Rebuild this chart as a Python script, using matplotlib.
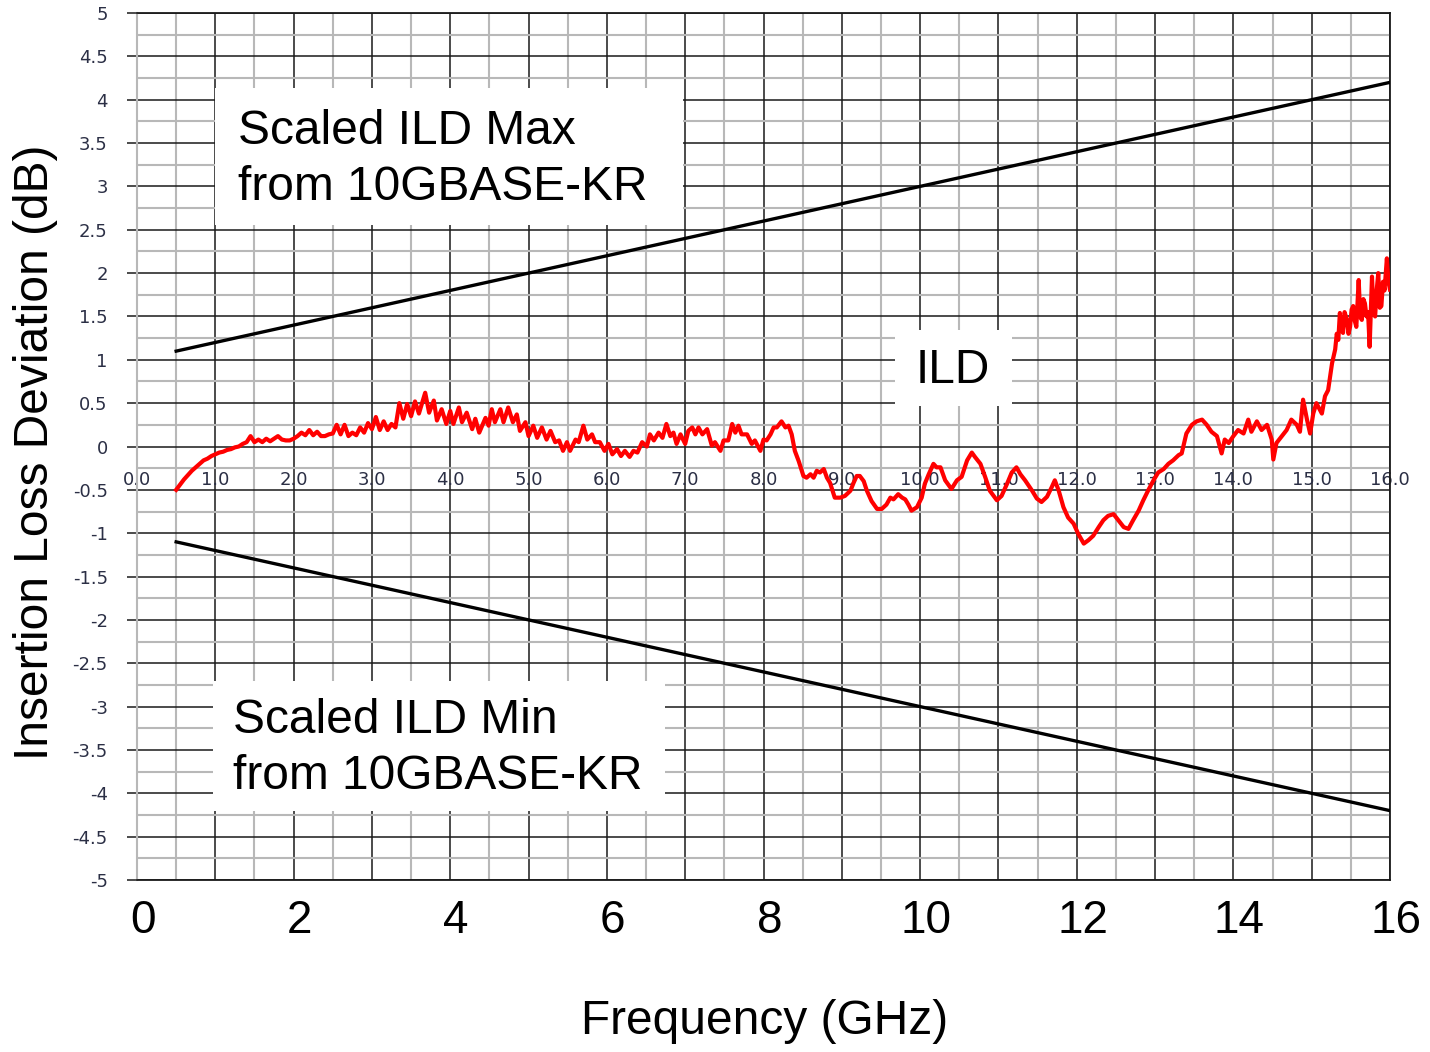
import matplotlib
matplotlib.use("Agg")
import matplotlib.pyplot as plt
from matplotlib.patches import Rectangle
from matplotlib.ticker import MultipleLocator
from matplotlib.transforms import ScaledTranslation

# measured ILD trace (GHz, dB)
freq = [
    0.50, 0.55, 0.60, 0.65, 0.70, 0.75, 0.80, 0.85, 0.90, 0.95,
    1.00, 1.05, 1.10, 1.15, 1.20, 1.25, 1.30, 1.35, 1.40, 1.45,
    1.50, 1.55, 1.60, 1.65, 1.70, 1.75, 1.80, 1.85, 1.90, 1.95,
    2.00, 2.05, 2.10, 2.15, 2.20, 2.25, 2.30, 2.35, 2.40, 2.45,
    2.50, 2.55, 2.60, 2.65, 2.70, 2.75, 2.80, 2.85, 2.90, 2.95,
    3.00, 3.05, 3.10, 3.15, 3.20, 3.25, 3.30, 3.35, 3.40, 3.45,
    3.50, 3.55, 3.60, 3.68, 3.73, 3.79, 3.83, 3.89, 3.95, 4.00,
    4.04, 4.11, 4.15, 4.21, 4.28, 4.32, 4.37, 4.45, 4.49, 4.53,
    4.57, 4.64, 4.68, 4.74, 4.80, 4.85, 4.89, 4.96, 5.00, 5.06,
    5.11, 5.17, 5.23, 5.28, 5.34, 5.39, 5.44, 5.49, 5.53, 5.60,
    5.64, 5.70, 5.75, 5.81, 5.85, 5.91, 5.97, 6.02, 6.07, 6.13,
    6.18, 6.23, 6.29, 6.34, 6.39, 6.45, 6.51, 6.55, 6.60, 6.66,
    6.71, 6.76, 6.81, 6.85, 6.89, 6.94, 7.00, 7.04, 7.09, 7.13,
    7.17, 7.22, 7.28, 7.34, 7.38, 7.45, 7.49, 7.55, 7.60, 7.64,
    7.68, 7.72, 7.79, 7.85, 7.89, 7.96, 8.00, 8.04, 8.09, 8.13,
    8.17, 8.23, 8.28, 8.32, 8.36, 8.40, 8.45, 8.51, 8.55, 8.60,
    8.64, 8.68, 8.72, 8.77, 8.81, 8.85, 8.91, 8.98, 9.04, 9.11,
    9.15, 9.19, 9.23, 9.28, 9.32, 9.38, 9.45, 9.51, 9.57, 9.62,
    9.66, 9.72, 9.77, 9.81, 9.85, 9.89, 9.96, 10.02, 10.06, 10.11,
    10.17, 10.21, 10.26, 10.32, 10.40, 10.47, 10.53, 10.60, 10.66, 10.70,
    10.77, 10.83, 10.89, 10.98, 11.04, 11.11, 11.17, 11.23, 11.28, 11.34,
    11.43, 11.49, 11.55, 11.62, 11.68, 11.72, 11.77, 11.83, 11.89, 11.96,
    12.02, 12.09, 12.15, 12.21, 12.28, 12.34, 12.40, 12.47, 12.53, 12.60,
    12.66, 12.72, 12.79, 12.85, 12.91, 12.98, 13.04, 13.11, 13.17, 13.23,
    13.30, 13.34, 13.40, 13.47, 13.53, 13.60, 13.66, 13.72, 13.79, 13.85,
    13.89, 13.94, 14.00, 14.06, 14.13, 14.19, 14.23, 14.30, 14.36, 14.43,
    14.49, 14.51, 14.55, 14.62, 14.68, 14.74, 14.81, 14.85, 14.89, 14.94,
    14.98, 15.02, 15.06, 15.13, 15.17, 15.21, 15.26, 15.30, 15.32, 15.34,
    15.36, 15.38, 15.40, 15.42, 15.45, 15.47, 15.49, 15.51, 15.53, 15.55,
    15.57, 15.60, 15.62, 15.64, 15.66, 15.68, 15.70, 15.72, 15.74, 15.77,
    15.79, 15.81, 15.83, 15.85, 15.87, 15.89, 15.91, 15.93, 15.96, 15.98,
    16.00,
]
ild = [
    -0.50, -0.44, -0.38, -0.33, -0.28, -0.24, -0.20, -0.16, -0.14, -0.11,
    -0.09, -0.07, -0.06, -0.04, -0.03, -0.01, 0.00, 0.03, 0.05, 0.12,
    0.05, 0.08, 0.05, 0.09, 0.06, 0.09, 0.12, 0.08, 0.07, 0.07,
    0.09, 0.12, 0.16, 0.13, 0.19, 0.13, 0.17, 0.12, 0.12, 0.14,
    0.15, 0.25, 0.14, 0.25, 0.12, 0.16, 0.13, 0.22, 0.16, 0.27,
    0.20, 0.34, 0.19, 0.29, 0.19, 0.26, 0.22, 0.50, 0.32, 0.49,
    0.35, 0.52, 0.38, 0.62, 0.39, 0.53, 0.30, 0.43, 0.26, 0.41,
    0.26, 0.45, 0.28, 0.39, 0.20, 0.32, 0.16, 0.33, 0.24, 0.43,
    0.28, 0.43, 0.28, 0.45, 0.28, 0.37, 0.18, 0.28, 0.12, 0.24,
    0.10, 0.22, 0.08, 0.18, 0.05, 0.07, -0.05, 0.05, -0.05, 0.08,
    0.05, 0.24, 0.08, 0.14, 0.05, 0.05, -0.05, 0.03, -0.09, -0.03,
    -0.11, -0.05, -0.12, -0.05, -0.07, 0.05, 0.00, 0.14, 0.07, 0.16,
    0.10, 0.26, 0.12, 0.16, 0.03, 0.14, 0.03, 0.18, 0.22, 0.14,
    0.22, 0.14, 0.20, 0.01, 0.05, -0.05, 0.07, 0.07, 0.26, 0.16,
    0.24, 0.14, 0.14, 0.03, 0.07, -0.05, 0.08, 0.07, 0.14, 0.22,
    0.22, 0.29, 0.22, 0.24, 0.14, -0.05, -0.17, -0.34, -0.36, -0.32,
    -0.36, -0.28, -0.30, -0.26, -0.36, -0.42, -0.59, -0.59, -0.57, -0.51,
    -0.42, -0.34, -0.34, -0.40, -0.51, -0.63, -0.72, -0.72, -0.67, -0.59,
    -0.61, -0.55, -0.59, -0.61, -0.67, -0.74, -0.70, -0.59, -0.43, -0.32,
    -0.20, -0.24, -0.24, -0.39, -0.49, -0.39, -0.35, -0.16, -0.07, -0.12,
    -0.20, -0.35, -0.51, -0.62, -0.57, -0.43, -0.30, -0.24, -0.32, -0.39,
    -0.51, -0.60, -0.64, -0.58, -0.47, -0.39, -0.51, -0.70, -0.82, -0.89,
    -1.01, -1.12, -1.08, -1.03, -0.93, -0.85, -0.80, -0.78, -0.85, -0.93,
    -0.95, -0.85, -0.74, -0.62, -0.51, -0.39, -0.30, -0.26, -0.20, -0.16,
    -0.10, -0.08, 0.15, 0.25, 0.29, 0.31, 0.25, 0.17, 0.12, -0.08,
    0.08, 0.04, 0.12, 0.19, 0.15, 0.31, 0.17, 0.29, 0.19, 0.25,
    0.08, -0.15, 0.04, 0.12, 0.19, 0.31, 0.25, 0.17, 0.54, 0.31,
    0.15, 0.38, 0.50, 0.38, 0.58, 0.65, 0.96, 1.12, 1.30, 1.23,
    1.54, 1.35, 1.31, 1.55, 1.46, 1.30, 1.38, 1.58, 1.62, 1.45,
    1.38, 1.92, 1.50, 1.46, 1.70, 1.65, 1.50, 1.55, 1.15, 1.96,
    1.55, 1.50, 1.80, 2.00, 1.60, 1.62, 1.90, 1.80, 2.17, 1.90,
    1.81,
]

# scaled 10GBASE-KR limits: +/-(1 + 0.2 f)
limit_freq = [0.5, 16.0]
ild_max = [1.1, 4.2]
ild_min = [-1.1, -4.2]

x_ticks = [0, 2, 4, 6, 8, 10, 12, 14, 16]
inner_labels = [f"{v:.1f}" for v in range(17)]
y_ticks = [5, 4.5, 4, 3.5, 3, 2.5, 2, 1.5, 1, 0.5, 0, -0.5, -1, -1.5, -2,
           -2.5, -3, -3.5, -4, -4.5, -5]

big_font = "Liberation Sans"
big_size = 34.5
small_col = "#2b2f45"

fig = plt.figure(figsize=(14.3, 10.52), dpi=100)
ax = fig.add_axes([137 / 1430, 1 - 880 / 1052, 1253 / 1430, 867 / 1052])

ax.set_xlim(0, 16)
ax.set_ylim(-5, 5)
ax.set_axisbelow(True)

# grid: black every 1 GHz / 0.5 dB, grey halfway
ax.xaxis.set_major_locator(MultipleLocator(1))
ax.xaxis.set_minor_locator(MultipleLocator(0.5))
ax.set_yticks(y_ticks)
ax.yaxis.set_minor_locator(MultipleLocator(0.25))
ax.grid(which="minor", color="#b8b8b8", linewidth=1.5)
ax.grid(which="major", color="#1a1a1a", linewidth=1.1)

ax.set_xticklabels([str(int(v)) if v in x_ticks else "" for v in ax.get_xticks()],
                   fontsize=33, fontfamily=big_font)
ax.tick_params(axis="x", which="both", length=0, pad=14)
shift = ScaledTranslation(6 / 100, 0, fig.dpi_scale_trans)
for lab in ax.get_xticklabels():
    lab.set_transform(lab.get_transform() + shift)

ax.set_yticklabels([f"{v:g}" for v in y_ticks], fontsize=13, color=small_col)
ax.tick_params(axis="y", which="major", length=7, width=1.1, color="#1a1a1a",
               pad=14)
ax.tick_params(axis="y", which="minor", length=0)

for side in ["top", "right", "bottom"]:
    ax.spines[side].set_color("#1a1a1a")
    ax.spines[side].set_linewidth(1.3)
ax.spines["left"].set_color("#b8b8b8")
ax.spines["left"].set_linewidth(1.5)

# white label boxes over the grid
ax.add_patch(Rectangle((1.0, 2.55), 5.97, 1.58, facecolor="white",
                       edgecolor="none", zorder=1.2))
ax.add_patch(Rectangle((0.97, -4.2), 5.77, 1.5, facecolor="white",
                       edgecolor="none", zorder=1.2))
ax.add_patch(Rectangle((9.68, 0.47), 1.49, 0.87, facecolor="white",
                       edgecolor="none", zorder=1.2))

# old excel axis labels along the 0 dB line
for i, lab in enumerate(inner_labels):
    ax.text(i, -0.39, lab, ha="center", va="center", fontsize=13,
            color=small_col, zorder=1.5)

ax.plot(limit_freq, ild_max, color="black", linewidth=2.4, zorder=3)
ax.plot(limit_freq, ild_min, color="black", linewidth=2.4, zorder=3)
ax.plot(freq, ild, color="#ff0000", linewidth=3.0, zorder=4)

ax.text(1.29, 3.31, "Scaled ILD Max\nfrom 10GBASE-KR", fontsize=big_size,
        fontfamily=big_font, ha="left", va="center", linespacing=1.32, zorder=2)
ax.text(1.23, -3.48, "Scaled ILD Min\nfrom 10GBASE-KR", fontsize=big_size,
        fontfamily=big_font, ha="left", va="center", linespacing=1.32, zorder=2)
ax.text(10.42, 0.88, "ILD", fontsize=big_size, fontfamily=big_font,
        ha="center", va="center", zorder=2)

fig.text(765 / 1430, 1 - 1022 / 1052, "Frequency (GHz)", fontsize=big_size,
         fontfamily=big_font, ha="center", va="center")
fig.text(36 / 1430, 1 - 452 / 1052, "Insertion Loss Deviation (dB)",
         fontsize=big_size, fontfamily=big_font, rotation=90,
         ha="center", va="center")

fig.savefig("out.png", dpi=100, facecolor="white")
